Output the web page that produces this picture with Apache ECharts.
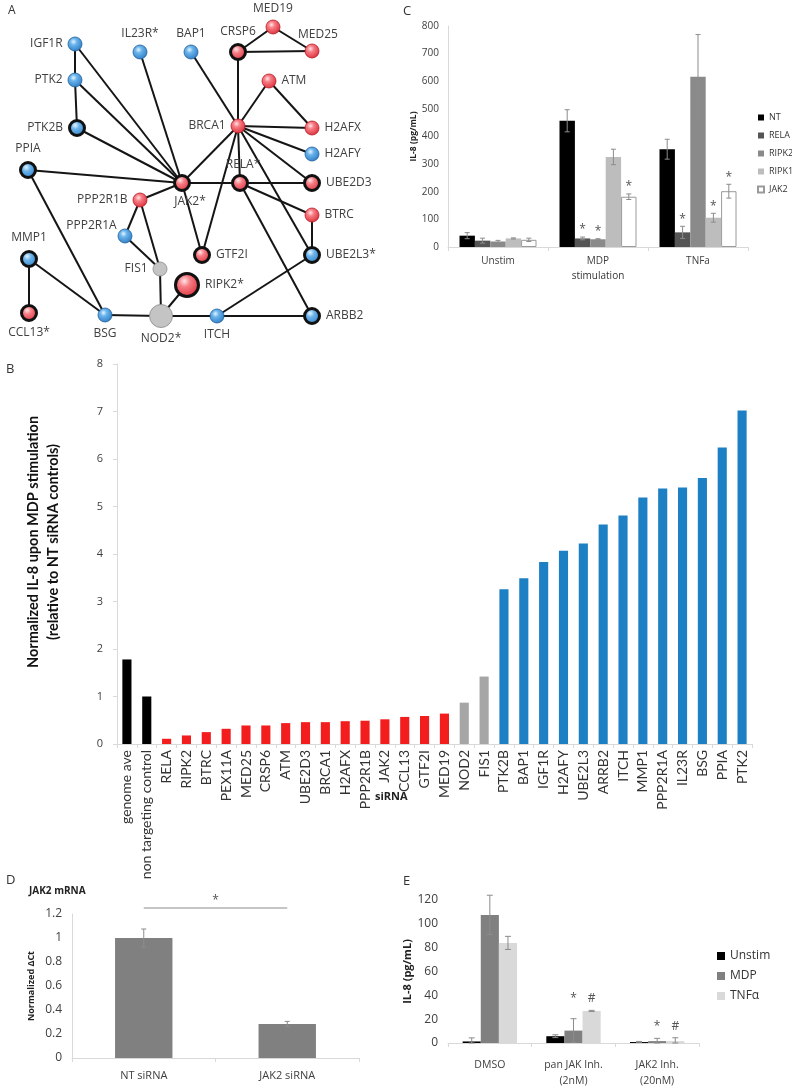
<!DOCTYPE html>
<html><head><meta charset="utf-8">
<script src="https://cdn.jsdelivr.net/npm/echarts@6/dist/echarts.min.js"></script>
<style>html,body{margin:0;padding:0;background:#fff}#c{width:792px;height:1089px}</style>
</head><body><div id="c"></div>
<script>
// ================= DATA =================
// Panel A – network
const netNames = ['IGF1R','IL23R*','BAP1','CRSP6','MED19','MED25','PTK2','ATM','PTK2B','BRCA1','H2AFX','H2AFY','PPIA','JAK2*','RELA*','UBE2D3','PPP2R1B','BTRC','PPP2R1A','MMP1','GTF2I','UBE2L3*','FIS1','RIPK2*','CCL13*','BSG','NOD2*','ITCH','ARBB2'];
const netType  = ['blue','blue','blue','red','red','red','blue','red','blue','red','red','blue','blue','red','red','red','red','red','blue','blue','red','blue','gray','red','red','blue','gray','blue','blue'];
const netRing  = [0,0,0,1,0,0,0,0,1,0,0,0,1,1,1,1,0,0,0,1,1,1,0,1,1,0,0,0,1];
const netLinks = [[0,6],[6,8],[0,13],[6,13],[8,13],[1,13],[12,13],[2,9],[3,9],[3,4],[3,5],[4,5],[7,9],[7,10],[9,10],[9,11],[9,15],[9,14],[9,13],[9,20],[9,21],[14,13],[14,15],[14,17],[14,28],[17,21],[13,16],[13,20],[16,18],[16,22],[18,22],[22,26],[12,25],[19,25],[19,24],[25,26],[26,27],[26,23],[27,21],[27,28]];
// node layout (pixel layout of the diagram)
const netLayout = [[75,44],[140,52],[191,52],[238,52],[273,27],[312,51],[75,80],[269,81],[77,128],[238,126],[312,128],[312,154],[28,170],[182,183],[240,183],[312,183],[140,200],[312,215],[125,236],[29,259],[202,255],[312,255],[160,269],[187,285],[29,313],[105,315],[161,316],[217,316],[312,316]];
const netLabelSide = ['left','top','top','top','top','top','left','right','left','left','right','right','top','bottom','top','right','left','right','left','top','right','right','left','right','bottom','bottom','bottom','bottom','right'];

// Panel C
const cCats = ['Unstim','MDP','TNFa'];
const cSeriesNames = ['NT','RELA','RIPK2','RIPK1','JAK2'];
const cValues = [[41,457,354],[23,31,53],[20,28,616],[31,326,106],[26,182,202]];
const cErrors = [[11,40,36],[9,5,22],[4,2,153],[2,28,16],[6,10,25]];
const cStars  = [['','',''],['','*','*'],['','*',''],['','','*'],['','*','*']];

// Panel B
const bCats = ['genome ave','non targeting control','RELA','RIPK2','BTRC','PEX11A','MED25','CRSP6','ATM','UBE2D3','BRCA1','H2AFX','PPP2R1B','JAK2','CCL13','GTF2I','MED19','NOD2','FIS1','PTK2B','BAP1','IGF1R','H2AFY','UBE2L3','ARRB2','ITCH','MMP1','PPP2R1A','IL23R','BSG','PPIA','PTK2'];
const bValues = [1.78,1.00,0.11,0.18,0.25,0.32,0.39,0.39,0.44,0.46,0.46,0.48,0.49,0.52,0.57,0.59,0.64,0.87,1.42,3.26,3.49,3.83,4.07,4.22,4.62,4.81,5.19,5.38,5.40,5.60,6.24,7.02];
const bGroup  = ['ctrl','ctrl','down','down','down','down','down','down','down','down','down','down','down','down','down','down','down','none','none','up','up','up','up','up','up','up','up','up','up','up','up','up'];

// Panel D
const dCats = ['NT siRNA','JAK2 siRNA'];
const dValues = [1.0,0.283];
const dErrors = [0.075,0.022];
const dBracket = [[0,1,1.25,'*']];

// Panel E
const eCats = ['DMSO','pan JAK Inh.\n(2nM)','JAK2 Inh.\n(20nM)'];
const eSeriesNames = ['Unstim','MDP','TNFα'];
const eValues = [[1.3,5.7,0.8],[107.5,10.4,1.6],[84,26.9,1.6]];
const eErrors = [[3,1.2,0.5],[16.5,10,2.3],[5.5,0.5,2.8]];
const eMarks  = [['','',''],['','*','*'],['','#','#']];
const eMarkLevel = [0,37,14];

// ================= STYLE =================
const FONT = "'Open Sans', 'Liberation Sans', sans-serif";
const XL = "Lato, 'Open Sans', sans-serif";
const axisGray = '#d9d9d9';
const lblColor = '#404040';

function nodeColor(t){
  if(t==='red') return new echarts.graphic.RadialGradient(0.4,0.35,0.75,[{offset:0,color:'#ffe6e8'},{offset:0.3,color:'#f77c84'},{offset:1,color:'#d6222e'}]);
  if(t==='blue') return new echarts.graphic.RadialGradient(0.4,0.35,0.75,[{offset:0,color:'#e6f4ff'},{offset:0.3,color:'#6ab4ec'},{offset:1,color:'#2473bd'}]);
  return '#c4c4c4';
}
const netNodes = netNames.map((n,i)=>{
  let size = netRing[i] ? 15 : 14;
  if(n==='RIPK2*') size = 23;
  if(n==='NOD2*') size = 23;
  const side = netLabelSide[i];
  const lab = {show:true, position:side, distance:5, color:lblColor, fontFamily:FONT, fontSize:12};
  if(n==='JAK2*'){ lab.offset=[8,0]; lab.distance=4; }
  if(n==='PPP2R1A'){ lab.offset=[0,-10]; lab.distance=1; }
  if(n==='MED25'){ lab.offset=[6,2]; }
  if(n==='RELA*'){ lab.offset=[3,2]; }
  if(n==='PPIA'||n==='MMP1'){ lab.distance=6; }
  return {
    name:n, value:netLayout[i], symbolSize:size,
    itemStyle:{color:nodeColor(netType[i]), borderColor: netRing[i] ? '#111' : (netType[i]==='gray'?'#8a8a8a':(netType[i]==='red'?'#b51a24':'#1f5f9c')), borderWidth: netRing[i]?3:0.8},
    label:lab
  };
});

function errRenderer(n, gapFrac, stars, markLevels, marks, cap, fs){
  return function(params, api){
    const ci = api.value(0), si = api.value(1), v = api.value(2), e = api.value(3);
    const catW = api.size([1,0])[0];
    const groupW = catW*(1-gapFrac);
    const bw = groupW/n;
    const cx = api.coord([ci,0])[0] - groupW/2 + bw*(si+0.5);
    const yT = api.coord([ci, v+e])[1];
    const yB = api.coord([ci, Math.max(v-e,0)])[1];
    const st = {stroke:'#8c8c8c', lineWidth:1};
    const ch = [
      {type:'line', shape:{x1:cx,y1:yT,x2:cx,y2:yB}, style:st},
      {type:'line', shape:{x1:cx-cap,y1:yT,x2:cx+cap,y2:yT}, style:st},
      {type:'line', shape:{x1:cx-cap,y1:yB,x2:cx+cap,y2:yB}, style:st}
    ];
    if(stars && stars[si][ci]){
      ch.push({type:'text', style:{text:stars[si][ci], x:cx, y:yT-1, align:'center', verticalAlign:'bottom', fill:'#555', font:'normal '+fs+'px '+FONT}});
    }
    if(marks && marks[si][ci]){
      const ym = api.coord([ci, markLevels[ci]])[1];
      ch.push({type:'text', style:{text:marks[si][ci], x:cx, y:ym, align:'center', verticalAlign:'middle', fill:'#555', font:'normal '+fs+'px '+FONT}});
    }
    return {type:'group', children:ch};
  };
}
function errData(vals, errs){
  const out=[];
  vals.forEach((row,si)=>row.forEach((v,ci)=>out.push([ci,si,v,errs[si][ci]])));
  return out;
}

const cColors = ['#000000','#555555','#8a8a8a','#bdbdbd','#ffffff'];
const eColors = ['#000000','#808080','#d9d9d9'];
const bColorMap = {ctrl:'#000000', down:'#f41d1d', none:'#a6a6a6', up:'#1e80c4'};
const C_GAP = 0.23, E_GAP = 0.35;

const series = [];
series.push({
  type:'graph', layout:'none', coordinateSystem:'cartesian2d', xAxisIndex:0, yAxisIndex:0,
  data: netNodes,
  links: netLinks.map(l=>({source:l[0], target:l[1]})),
  lineStyle:{color:'#151515', width:2, opacity:1, curveness:0},
  emphasis:{disabled:true}, silent:true, z:5
});
cSeriesNames.forEach((nm,i)=>{
  series.push({type:'bar', name:nm, xAxisIndex:1, yAxisIndex:1, data:cValues[i],
    barGap:'0%', barCategoryGap:(C_GAP*100)+'%',
    itemStyle:{color:cColors[i], borderColor: i===4?'#9a9a9a':cColors[i], borderWidth: i===4?1:0}, silent:true});
});
series.push({type:'custom', xAxisIndex:1, yAxisIndex:1, renderItem:errRenderer(5,C_GAP,cStars,null,null,2.5,12), data:errData(cValues,cErrors), encode:{x:0,y:2}, z:10, silent:true});
series.push({type:'bar', xAxisIndex:2, yAxisIndex:2, barWidth:'46%', silent:true,
  data: bValues.map((v,i)=>({value:v, itemStyle:{color:bColorMap[bGroup[i]]}}))});
series.push({type:'bar', xAxisIndex:3, yAxisIndex:3, data:dValues, barWidth:'40%', itemStyle:{color:'#808080'}, silent:true});
series.push({type:'custom', xAxisIndex:3, yAxisIndex:3, renderItem:errRenderer(1,0.6,null,null,null,2.5,12), data:errData([dValues],[dErrors]), encode:{x:0,y:2}, z:10, silent:true});
series.push({type:'custom', xAxisIndex:3, yAxisIndex:3, silent:true, z:10, data:dBracket, encode:{x:0,y:2},
  renderItem:function(params, api){
    const p0 = api.coord([api.value(0), api.value(2)]);
    const p1 = api.coord([api.value(1), api.value(2)]);
    return {type:'group', children:[
      {type:'line', shape:{x1:p0[0],y1:p0[1],x2:p1[0],y2:p1[1]}, style:{stroke:'#8c8c8c', lineWidth:1}},
      {type:'text', style:{text:dBracket[params.dataIndex][3], x:(p0[0]+p1[0])/2, y:p0[1]-1, align:'center', verticalAlign:'bottom', fill:'#555', font:'normal 12px '+FONT}}
    ]};
  }});
eSeriesNames.forEach((nm,i)=>{
  series.push({type:'bar', name:nm, xAxisIndex:4, yAxisIndex:4, data:eValues[i],
    barGap:'0%', barCategoryGap:(E_GAP*100)+'%', itemStyle:{color:eColors[i]}, silent:true});
});
series.push({type:'custom', xAxisIndex:4, yAxisIndex:4, renderItem:errRenderer(3,E_GAP,null,eMarkLevel,eMarks,3,12), data:errData(eValues,eErrors), encode:{x:0,y:2}, z:10, silent:true});

const baseAxisLabel = {color:lblColor, fontFamily:FONT};
const option = {
  animation:false,
  backgroundColor:'#fff',
  textStyle:{fontFamily:FONT},
  title:[
    {text:'A', left:3, top:0, textStyle:{fontSize:12, fontWeight:'normal', color:'#333', fontFamily:FONT}},
    {text:'C', left:398, top:0, textStyle:{fontSize:13, fontWeight:'normal', color:'#333', fontFamily:FONT}},
    {text:'B', left:1, top:358, textStyle:{fontSize:13, fontWeight:'normal', color:'#333', fontFamily:FONT}},
    {text:'D', left:1, top:869, textStyle:{fontSize:13, fontWeight:'normal', color:'#333', fontFamily:FONT}},
    {text:'E', left:398, top:870, textStyle:{fontSize:13, fontWeight:'normal', color:'#333', fontFamily:FONT}},
    {text:'JAK2 mRNA', left:24, top:881, textStyle:{fontSize:10, fontWeight:'bold', color:'#222', fontFamily:FONT}},
    {text:'siRNA', left:370, top:786, textStyle:{fontSize:11, fontWeight:'bold', color:'#222', fontFamily:FONT}}
  ],
  legend:[
    {data:cSeriesNames, orient:'vertical', left:757, top:113, padding:0, itemWidth:6, itemHeight:6, itemGap:9, icon:'rect',
      textStyle:{fontSize:9, color:'#333', fontFamily:FONT, overflow:'none'}, selectedMode:false},
    {data:eSeriesNames, orient:'vertical', left:717, top:950, padding:0, itemWidth:8, itemHeight:8, itemGap:8, icon:'rect',
      textStyle:{fontSize:12, color:'#333', fontFamily:FONT}, selectedMode:false}
  ],
  grid:[
    {left:0, top:0, width:792, height:1089, show:false},
    {left:448, top:26, width:300, height:221},
    {left:117, top:364, width:635, height:380},
    {left:72, top:914, width:287, height:144},
    {left:448, top:900, width:251, height:153}
  ],
  xAxis:[
    {type:'value', gridIndex:0, min:0, max:792, show:false},
    {type:'category', gridIndex:1, data:cCats, name:'stimulation', nameLocation:'middle', nameGap:24,
      nameTextStyle:{fontSize:10, color:'#333', fontFamily:FONT},
      axisLine:{lineStyle:{color:axisGray}}, axisTick:{show:true, length:4, lineStyle:{color:axisGray}},
      axisLabel:Object.assign({fontSize:10, margin:9}, baseAxisLabel)},
    {type:'category', gridIndex:2, data:bCats,
      axisLine:{lineStyle:{color:axisGray}}, axisTick:{show:true, length:4, lineStyle:{color:axisGray}},
      axisLabel:{rotate:90, interval:0, fontSize:14, margin:6, color:'#333', fontFamily:XL}},
    {type:'category', gridIndex:3, data:dCats,
      axisLine:{lineStyle:{color:axisGray}}, axisTick:{show:true, length:4, lineStyle:{color:axisGray}},
      axisLabel:Object.assign({fontSize:11, margin:12}, baseAxisLabel)},
    {type:'category', gridIndex:4, data:eCats,
      axisLine:{lineStyle:{color:axisGray}}, axisTick:{show:true, length:4, lineStyle:{color:axisGray}},
      axisLabel:Object.assign({fontSize:10.5, margin:14, lineHeight:16}, baseAxisLabel)}
  ],
  yAxis:[
    {type:'value', gridIndex:0, min:0, max:1089, inverse:true, show:false},
    {type:'value', gridIndex:1, min:0, max:800, interval:100, name:'IL-8 (pg/mL)', nameLocation:'middle', nameGap:30,
      nameTextStyle:{fontSize:8.5, fontWeight:'bold', color:'#222', fontFamily:FONT},
      axisLine:{show:true, lineStyle:{color:axisGray}}, axisTick:{show:false}, splitLine:{show:false},
      axisLabel:Object.assign({fontSize:10, margin:9}, baseAxisLabel)},
    {type:'value', gridIndex:2, min:0, max:8, interval:1, name:'Normalized IL-8 upon MDP stimulation\n(relative to NT siRNA controls)', nameLocation:'middle', nameGap:54,
      nameTextStyle:{fontSize:14.5, fontWeight:'bold', color:'#111', fontFamily:XL, lineHeight:20, padding:[0,0,0,24]},
      axisLine:{show:true, lineStyle:{color:axisGray}}, axisTick:{show:true, length:4, lineStyle:{color:axisGray}}, splitLine:{show:false},
      axisLabel:Object.assign({fontSize:11, margin:14}, baseAxisLabel)},
    {type:'value', gridIndex:3, min:0, max:1.2, interval:0.2, name:'Normalized ΔCt', nameLocation:'middle', nameGap:36,
      nameTextStyle:{fontSize:9, fontWeight:'bold', color:'#222', fontFamily:FONT},
      axisLine:{show:true, lineStyle:{color:axisGray}}, axisTick:{show:false}, splitLine:{show:false},
      axisLabel:Object.assign({fontSize:12, margin:10}, baseAxisLabel)},
    {type:'value', gridIndex:4, min:0, max:120, interval:20, name:'IL-8 (pg/mL)', nameLocation:'middle', nameGap:33,
      nameTextStyle:{fontSize:11, fontWeight:'bold', color:'#222', fontFamily:FONT},
      axisLine:{show:false}, axisTick:{show:false}, splitLine:{show:false},
      axisLabel:Object.assign({fontSize:12, margin:10}, baseAxisLabel)}
  ],
  series:series
};
const chart = echarts.init(document.getElementById('c'), null, {renderer:'canvas'});
chart.setOption(option);
</script>
</body></html>
